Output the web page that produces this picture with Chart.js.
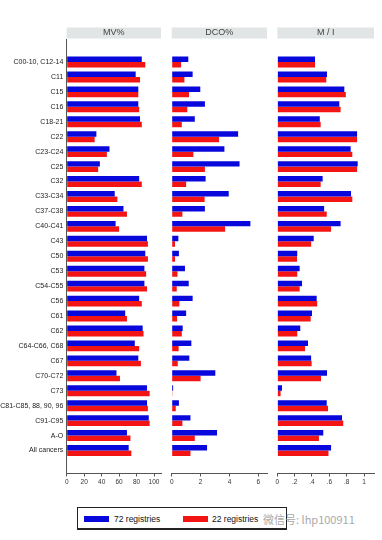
<!DOCTYPE html>
<html><head><meta charset="utf-8">
<script src="https://cdn.jsdelivr.net/npm/chart.js@4/dist/chart.umd.min.js"></script>
<style>
html,body{margin:0;padding:0;background:#fff;}
#wrap{position:relative;width:382px;height:540px;overflow:hidden;background:#fff;font-family:"Liberation Sans",Arial,sans-serif;}
canvas{position:absolute;top:0;}
#legend{position:absolute;left:77px;top:507px;width:208px;height:20px;border:1px solid #222;border-bottom-width:2px;background:#fff;}
.sw{position:absolute;top:8px;width:25px;height:6px;}
.lt{position:absolute;top:5px;font-size:8.5px;color:#111;line-height:12px;white-space:nowrap;}
#wm{position:absolute;left:263px;top:512px;font-family:"Noto Sans CJK SC",sans-serif;font-size:11px;line-height:14px;color:#9a9a9a;opacity:.85;white-space:nowrap;}
</style></head>
<body>
<div id="wrap">
  <canvas id="c1" width="165" height="500" style="left:0px;width:165px;height:500px"></canvas>
  <canvas id="c2" width="105" height="500" style="left:165px;width:105px;height:500px"></canvas>
  <canvas id="c3" width="112" height="500" style="left:270px;width:112px;height:500px"></canvas>
  <div id="legend">
    <div class="sw" id="sw1" style="left:6px"></div><div class="lt" id="lt1" style="left:36px"></div>
    <div class="sw" id="sw2" style="left:104.7px"></div><div class="lt" id="lt2" style="left:134px"></div>
  </div>
  <div id="wm">微信号: lhp100911</div>
</div>
<script>
const categories = ['C00-10, C12-14','C11','C15','C16','C18-21','C22','C23-C24','C25','C32','C33-C34','C37-C38','C40-C41','C43','C50','C53','C54-C55','C56','C61','C62','C64-C66, C68','C67','C70-C72','C73','C81-C85, 88, 90, 96','C91-C95','A-O','All cancers'];
const seriesNames = ['72 registries','22 registries'];
const panelTitles = ['MV%','DCO%','M / I'];

const mv72 = [86,79,82,82,84,34,49,38,83,55,65,56,92,90,89,89,83,67,87,78,82,57,92,92,94,69,71];
const mv22 = [90,84,82,83,86,32,46,36,86,58,69,60,93,93,91,92,86,69,88,83,85,61,95,93,95,73,74];

const dco72 = [1.15,1.45,1.98,2.3,1.6,4.6,3.65,4.7,2.35,3.95,2.3,5.45,0.46,0.5,0.92,1.18,1.45,1.0,0.76,1.36,1.22,3.02,0.1,0.5,1.3,3.14,2.45];
const dco22 = [0.65,0.88,1.2,1.08,0.7,3.28,1.5,2.3,1.0,2.28,0.74,3.7,0.23,0.23,0.4,0.35,0.53,0.37,0.7,0.48,0.42,2.0,0.05,0.28,0.74,1.6,1.3];

const mi72 = [0.435,0.573,0.773,0.715,0.49,0.92,0.846,0.927,0.523,0.85,0.54,0.73,0.42,0.23,0.258,0.285,0.454,0.4,0.265,0.354,0.39,0.573,0.054,0.57,0.746,0.53,0.62];
const mi22 = [0.435,0.565,0.79,0.73,0.5,0.92,0.865,0.92,0.5,0.865,0.57,0.62,0.39,0.227,0.23,0.258,0.46,0.385,0.23,0.32,0.396,0.504,0.038,0.585,0.76,0.48,0.59];

const mvTicks = [0,20,40,60,80,100];
const mvTickLabels = ['0','20','40','60','80','100'];
const dcoTicks = [0,2,4,6];
const dcoTickLabels = ['0','2','4','6'];
const miTicks = [0,0.2,0.4,0.6,0.8,1];
const miTickLabels = ['0','.2','.4','.6','.8','1'];

const BLUE = '#0808dc';
const RED = '#f31414';
const FONT = '"Liberation Sans", Arial, sans-serif';

document.getElementById('sw1').style.background = BLUE;
document.getElementById('sw2').style.background = RED;
document.getElementById('lt1').textContent = seriesNames[0];
document.getElementById('lt2').textContent = seriesNames[1];

const stripPlugin = {
  id: 'strip',
  beforeDraw(chart) {
    const {ctx, chartArea: a} = chart;
    ctx.save();
    ctx.fillStyle = '#e1e5e5';
    ctx.fillRect(a.left, 27.5, a.right - a.left, 11);
    ctx.restore();
  }
};

function makePanel(id, title, d72, d22, tickVals, tickLabels, xMax, pad, showY, yWidth) {
  new Chart(document.getElementById(id), {
    type: 'bar',
    data: {
      datasets: [
        {label: seriesNames[0], data: d72.map((v, i) => ({x: v, y: i})), backgroundColor: BLUE, categoryPercentage: 0.73, barPercentage: 1},
        {label: seriesNames[1], data: d22.map((v, i) => ({x: v, y: i})), backgroundColor: RED, categoryPercentage: 0.73, barPercentage: 1}
      ]
    },
    options: {
      indexAxis: 'y',
      responsive: false,
      animation: false,
      layout: {padding: {left: pad[0], right: pad[1], top: 0, bottom: 0}},
      plugins: {
        legend: {display: false},
        tooltip: {enabled: false},
        title: {display: true, text: title, fullSize: false, color: '#444',
          font: {size: 9, family: FONT, weight: 'normal'}, padding: {top: 27.6, bottom: 0.6}}
      },
      scales: {
        y: {
          type: 'linear', reverse: true, min: -1, max: categories.length, display: showY,
          afterBuildTicks: s => { s.ticks = categories.map((_, i) => ({value: i})); },
          afterFit: s => { if (showY) s.width = yWidth; },
          grid: {display: false, drawTicks: false},
          border: {display: true, color: '#555', width: 1},
          ticks: {autoSkip: false, padding: 3.4, color: '#222', font: {size: 7, family: FONT},
            callback: v => (categories[v] !== undefined ? categories[v] : '')}
        },
        x: {
          type: 'linear', min: 0, max: xMax,
          afterBuildTicks: s => { s.ticks = tickVals.map(v => ({value: v})); },
          afterFit: s => { s.height = 26.5; },
          grid: {display: true, drawOnChartArea: false, drawTicks: true, tickLength: 3, color: '#555'},
          border: {display: true, color: '#555', width: 1},
          ticks: {autoSkip: false, maxRotation: 0, padding: 2, color: '#333', font: {size: 6.5, family: FONT},
            callback: (v, i) => tickLabels[i]}
        }
      }
    },
    plugins: [stripPlugin]
  });
}

makePanel('c1', panelTitles[0], mv72, mv22, mvTicks, mvTickLabels, 108, [0, 4], true, 66.7);
makePanel('c2', panelTitles[1], dco72, dco22, dcoTicks, dcoTickLabels, 6.6, [6.7, 3], false, 0);
makePanel('c3', panelTitles[2], mi72, mi22, miTicks, miTickLabels, 1.115, [7.3, 8], false, 0);
</script>
</body></html>
